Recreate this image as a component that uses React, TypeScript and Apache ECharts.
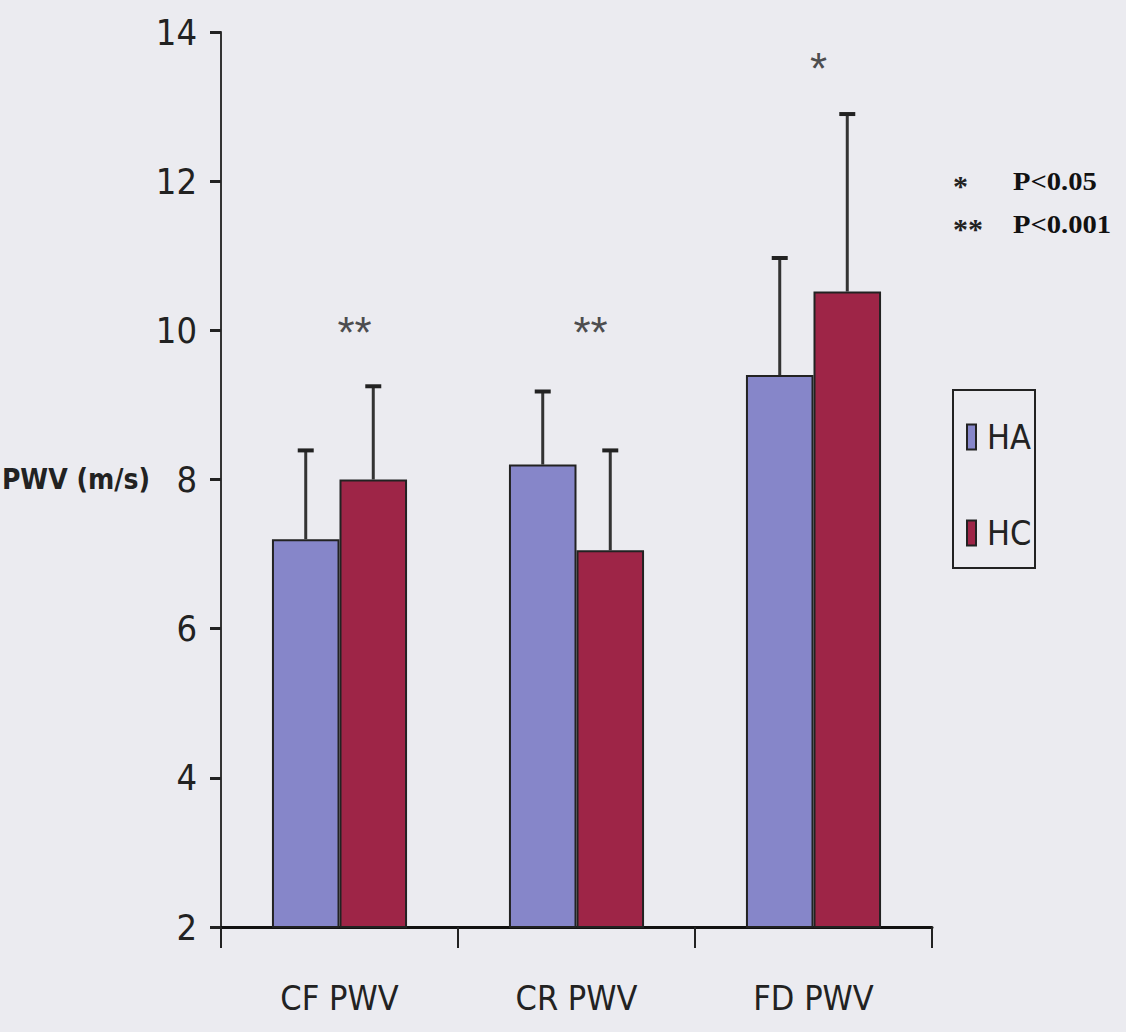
import React, { useEffect, useRef } from "react";
import * as echarts from "echarts";

const categories = ["CF PWV", "CR PWV", "FD PWV"];
const seriesNames = ["HA", "HC"];
const haMean = [7.2, 8.2, 9.4];
const hcMean = [8.0, 7.05, 10.52];
const haUpper = [8.39, 9.18, 10.97];
const hcUpper = [9.25, 8.39, 12.9];
const sigMarks = ["**", "**", "*"];
const sigLevel = [10.1, 10.1, 13.65];
const pNoteStars = ["*", "**"];
const pNoteTexts = ["P<0.05", "P<0.001"];
const yMin = 2;
const yMax = 14;
const yStep = 2;

const NARROW = "'Liberation Sans Narrow', 'DejaVu Sans Condensed', 'Arial Narrow', sans-serif";
const HA_COLOR = "#8686c9";
const HC_COLOR = "#9e2547";
const sigOffsetX = [15, 14, 5];

function errRender(sign: number) {
  return (params: any, api: any) => {
    const idx = api.value(0);
    const base = api.coord([idx, api.value(1)]);
    const top = api.coord([idx, api.value(2)]);
    const band = api.size([1, 0])[0];
    const x = base[0] + sign * band * 0.1425;
    return {
      type: "group",
      children: [
        {
          type: "line",
          shape: { x1: x, y1: base[1], x2: x, y2: top[1] },
          style: { stroke: "#333", lineWidth: 3 },
        },
        {
          type: "line",
          shape: { x1: x - 8, y1: top[1], x2: x + 8, y2: top[1] },
          style: { stroke: "#222", lineWidth: 4 },
        },
      ],
    };
  };
}

export default function App() {
  const ref = useRef<HTMLDivElement>(null);
  useEffect(() => {
    if (!ref.current) return;
    const chart = echarts.init(ref.current, null, { renderer: "svg" });
    const graphicTexts: any[] = [];
    pNoteStars.forEach((s, i) => {
      graphicTexts.push({
        type: "text",
        x: 953,
        y: 170 + i * 43,
        style: { text: s, font: "bold 30px 'Liberation Serif', serif", fill: "#222" },
      });
      graphicTexts.push({
        type: "text",
        x: 1013,
        y: 168 + i * 43,
        scaleX: 1.1,
        style: { text: pNoteTexts[i], font: "bold 26px 'Liberation Serif', serif", fill: "#111" },
      });
    });
    chart.setOption({
      animation: false,
      backgroundColor: "#ebebf0",
      grid: { left: 221, right: 194, top: 32, bottom: 105, containLabel: false, outerBoundsMode: "none" },
      xAxis: {
        type: "category",
        data: categories,
        axisLine: { lineStyle: { color: "#111", width: 3 } },
        axisTick: { show: true, length: 21, lineStyle: { color: "#222", width: 2 } },
        axisLabel: { fontFamily: NARROW, fontSize: 34, color: "#222", margin: 54 },
      },
      yAxis: {
        type: "value",
        min: yMin,
        max: yMax,
        interval: yStep,
        name: "PWV (m/s)",
        nameLocation: "middle",
        nameRotate: 0,
        nameGap: 62,
        nameTextStyle: { fontFamily: NARROW, fontSize: 28, fontWeight: "bold", color: "#222", align: "right" },
        axisLine: { show: true, lineStyle: { color: "#333", width: 2 } },
        axisTick: { show: true, length: 11, lineStyle: { color: "#222", width: 3 } },
        axisLabel: { fontFamily: NARROW, fontSize: 36, color: "#222", margin: 24 },
        splitLine: { show: false },
      },
      legend: {
        orient: "vertical",
        left: 966,
        top: 420,
        padding: 0,
        itemWidth: 9,
        itemHeight: 25,
        itemGap: 62,
        icon: "rect",
        data: seriesNames,
        textStyle: { fontFamily: NARROW, fontSize: 34, color: "#222", padding: [0, 0, 0, 6] },
      },
      graphic: [
        {
          type: "rect",
          shape: { x: 953, y: 390, width: 82, height: 178 },
          style: { fill: "none", stroke: "#222", lineWidth: 2 },
        },
        ...graphicTexts,
      ],
      series: [
        {
          name: seriesNames[0],
          type: "bar",
          data: haMean,
          barGap: "0%",
          barCategoryGap: "43%",
          itemStyle: { color: HA_COLOR, borderColor: "#222", borderWidth: 2 },
        },
        {
          name: seriesNames[1],
          type: "bar",
          data: hcMean,
          barGap: "0%",
          barCategoryGap: "43%",
          itemStyle: { color: HC_COLOR, borderColor: "#222", borderWidth: 2 },
        },
        {
          type: "custom",
          renderItem: errRender(-1),
          encode: { x: 0, y: [1, 2] },
          data: haMean.map((m, i) => [i, m, haUpper[i]]),
          z: 5,
          silent: true,
        },
        {
          type: "custom",
          renderItem: errRender(1),
          encode: { x: 0, y: [1, 2] },
          data: hcMean.map((m, i) => [i, m, hcUpper[i]]),
          z: 5,
          silent: true,
        },
        {
          type: "scatter",
          data: sigLevel.map((v, i) => ({
            value: [i, v],
            label: { offset: [sigOffsetX[i], 10] },
          })),
          symbolSize: 1,
          itemStyle: { color: "rgba(0,0,0,0)" },
          label: {
            show: true,
            position: "inside",
            formatter: (p: any) => sigMarks[p.dataIndex],
            fontFamily: "'Liberation Sans', sans-serif",
            fontSize: 44,
            color: "#222",
          },
          z: 6,
        },
      ],
    });
    return () => chart.dispose();
  }, []);
  return <div ref={ref} style={{ position: "fixed", left: 0, top: 0, width: 1126, height: 1032 }} />;
}
